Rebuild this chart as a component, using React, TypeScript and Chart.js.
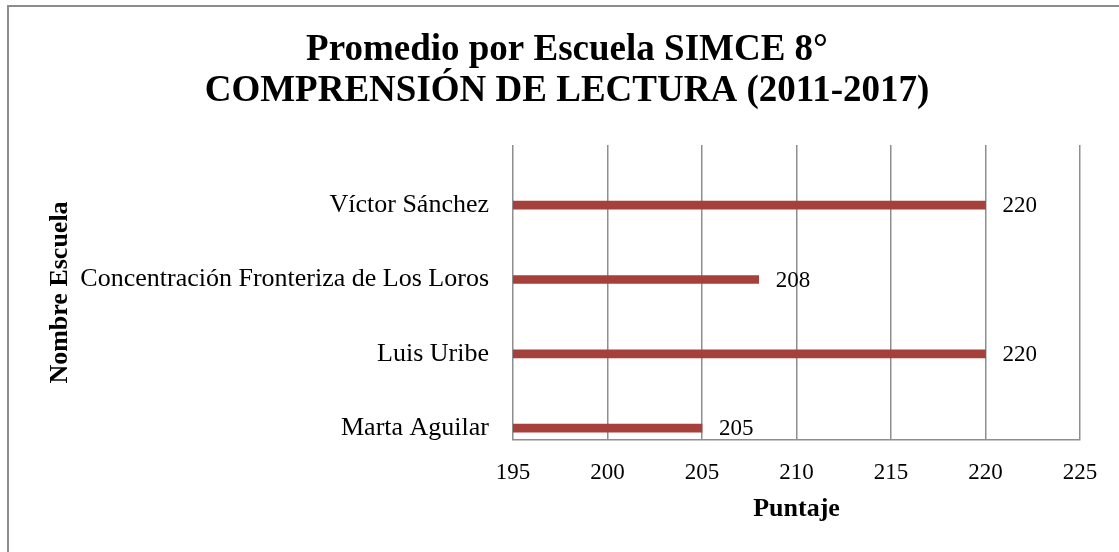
import React, { useEffect, useRef } from "react";
import { Chart, registerables } from "chart.js";

Chart.register(...registerables);

const titleLines = ["Promedio por Escuela SIMCE 8°", "COMPRENSIÓN DE LECTURA (2011-2017)"];
const schools = [
  "Víctor Sánchez",
  "Concentración Fronteriza de Los Loros",
  "Luis Uribe",
  "Marta Aguilar",
];
const scores = [220, 208, 220, 205];
const xMin = 195;
const xMax = 225;
const xStep = 5;
const xAxisTitle = "Puntaje";
const yAxisTitle = "Nombre Escuela";
// category axis range (Excel places the rows slightly below the band centres)
const yMin = -0.81;
const yMax = 3.16;

const FONT = "'Liberation Serif', 'Times New Roman', serif";
const BAR_COLOR = "#A5403A";
const GRID_COLOR = "#8e8e8e";

const valueLabels = {
  id: "valueLabels",
  afterDatasetsDraw(chart: any) {
    const ctx = chart.ctx;
    const meta = chart.getDatasetMeta(0);
    ctx.save();
    ctx.font = `23px ${FONT}`;
    ctx.fillStyle = "#000";
    ctx.textAlign = "left";
    ctx.textBaseline = "middle";
    meta.data.forEach((el: any, i: number) => {
      ctx.fillText(String(scores[i]), el.x + 17, el.y + 1);
    });
    ctx.restore();
  },
};

export default function App() {
  const canvasRef = useRef<HTMLCanvasElement | null>(null);

  useEffect(() => {
    if (!canvasRef.current) return;
    const chart = new Chart(canvasRef.current, {
      type: "bar",
      data: {
        datasets: [
          {
            data: schools.map((_, i) => ({ x: scores[i], y: i })),
            backgroundColor: BAR_COLOR,
            borderWidth: 0,
            barThickness: 8,
          },
        ],
      },
      plugins: [valueLabels],
      options: {
        indexAxis: "y",
        animation: false,
        responsive: true,
        maintainAspectRatio: false,
        layout: { padding: { left: 54, right: 39, top: 0, bottom: 0 } },
        plugins: {
          legend: { display: false },
          tooltip: { enabled: false },
          title: {
            display: true,
            text: titleLines,
            color: "#000",
            font: { family: FONT, size: 37, weight: "bold", lineHeight: 1.108 },
            padding: { top: 29.5, bottom: 33.5 },
          },
        },
        scales: {
          x: {
            type: "linear",
            min: xMin,
            max: xMax,
            ticks: {
              stepSize: xStep,
              color: "#000",
              font: { family: FONT, size: 23 },
              padding: 19,
            },
            grid: {
              color: GRID_COLOR,
              lineWidth: 1.5,
              drawTicks: false,
            },
            border: { display: true, color: GRID_COLOR, width: 1.5 },
            title: {
              display: true,
              text: xAxisTitle,
              color: "#000",
              font: { family: FONT, size: 26, weight: "bold" },
              padding: { top: 0, bottom: 27 },
            },
            afterFit(scale: any) {
              scale.height = 112;
            },
          },
          y: {
            type: "linear",
            reverse: true,
            offset: false,
            min: yMin,
            max: yMax,
            afterBuildTicks(scale: any) {
              scale.ticks = schools.map((_, i) => ({ value: i }));
            },
            ticks: {
              color: "#000",
              font: { family: FONT, size: 26 },
              padding: 24,
              autoSkip: false,
              callback: (v: any) => schools[v as number] ?? "",
            },
            grid: { display: false, drawTicks: false },
            border: { display: false },
            title: {
              display: true,
              text: yAxisTitle,
              color: "#000",
              font: { family: FONT, size: 26, weight: "bold" },
              padding: { top: -9.6, bottom: 0 },
            },
            afterFit(scale: any) {
              scale.width = 513 - 54;
            },
          },
        },
      },
    });
    return () => chart.destroy();
  }, []);

  return (
    <div
      style={{
        position: "fixed",
        left: 0,
        top: 0,
        width: 1119,
        height: 552,
        background: "#fff",
        overflow: "hidden",
      }}
    >
      <div
        style={{
          position: "absolute",
          left: 7,
          top: 5,
          width: 1200,
          height: 700,
          border: "2px solid #8c8c8c",
        }}
      />
      <div style={{ position: "absolute", left: 0, top: 0, width: 1119, height: 552 }}>
        <canvas ref={canvasRef} />
      </div>
    </div>
  );
}
